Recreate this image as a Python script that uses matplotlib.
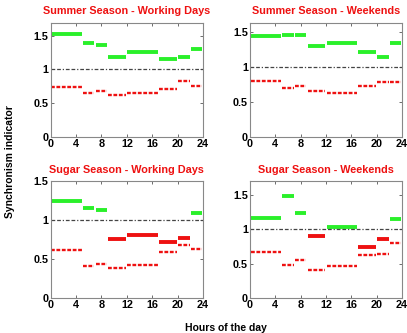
import numpy as np
import matplotlib
matplotlib.use("Agg")
import matplotlib.pyplot as plt

plt.rcParams['font.family'] = ['Liberation Sans', 'DejaVu Sans']
plt.rcParams['font.weight'] = 'bold'

# Hour intervals shared by every panel
edges = [0, 5, 7, 9, 12, 17, 20, 22, 24]

titles = ["Summer Season - Working Days", "Summer Season - Weekends",
          "Sugar Season - Working Days", "Sugar Season - Weekends"]

# Solid (thick) indicator per interval
summer_work = [1.525, 1.396, 1.36, 1.19, 1.25, 1.15, 1.19, 1.30]
summer_wknd = [1.44, 1.457, 1.466, 1.30, 1.35, 1.22, 1.15, 1.35]
sugar_work = [1.245, 1.158, 1.133, 0.759, 0.813, 0.714, 0.776, 1.091]
sugar_wknd = [1.17, 1.49, 1.233, 0.898, 1.029, 0.738, 0.859, 1.146]

# Dashed red indicator per interval
summer_work_d = [0.733, 0.65, 0.683, 0.62, 0.644, 0.703, 0.827, 0.752]
summer_wknd_d = [0.798, 0.70, 0.726, 0.663, 0.625, 0.726, 0.779, 0.784]
sugar_work_d = [0.614, 0.415, 0.44, 0.386, 0.423, 0.593, 0.676, 0.627]
sugar_wknd_d = [0.67, 0.485, 0.558, 0.398, 0.471, 0.621, 0.641, 0.806]

solid = [summer_work, summer_wknd, sugar_work, sugar_wknd]
dashed = [summer_work_d, summer_wknd_d, sugar_work_d, sugar_wknd_d]
ylims = [1.69, 1.635, 1.445, 1.70]

fig = plt.figure(figsize=(4.07, 3.33), dpi=100)
pos = [[0.1246, 0.5895, 0.374, 0.342], [0.614, 0.5895, 0.374, 0.342],
       [0.1246, 0.106, 0.374, 0.349], [0.614, 0.106, 0.374, 0.349]]

for i in range(4):
    ax = fig.add_axes(pos[i])
    for k in range(len(edges) - 1):
        x0, x1 = edges[k], edges[k + 1]
        v = solid[i][k]
        col = '#2af02a' if v >= 1 else '#ee1111'
        ax.plot([x0 + 0.1, x1 - 0.1], [v, v], color=col, lw=2.8,
                solid_capstyle='butt')
        d = dashed[i][k]
        ax.plot([x0 + 0.1, x1 - 0.1], [d, d], color='#ee1111', lw=1.7,
                ls=(0, (1.6, 0.7)))
    ax.axhline(1, color='#444444', lw=0.9, ls=(0, (3, 1.5, 3, 1.5, 1, 1.5)))
    ax.set_xlim(0, 24)
    ax.set_ylim(0, ylims[i])
    ax.set_xticks([0, 4, 8, 12, 16, 20, 24])
    ax.set_yticks([0, 0.5, 1, 1.5])
    ax.set_yticklabels(['0', '0.5', '1', '1.5'])
    ax.tick_params(direction='in', length=2.5, width=0.6, labelsize=7.8,
                   top=True, right=True, pad=1.5, color='#555555')
    for s in ax.spines.values():
        s.set_color('#888888')
        s.set_linewidth(0.8)
    ax.set_title(titles[i], color='#ee1111', fontsize=7.8,
                 fontweight='bold', pad=6)

fig.text(0.025, 0.515, "Synchronism indicator", rotation=90,
         ha='center', va='center', fontsize=7.5, fontweight='bold')
fig.text(0.555, 0.015, "Hours of the day", ha='center', va='center',
         fontsize=7.5, fontweight='bold')

fig.savefig("out.png", dpi=100)
